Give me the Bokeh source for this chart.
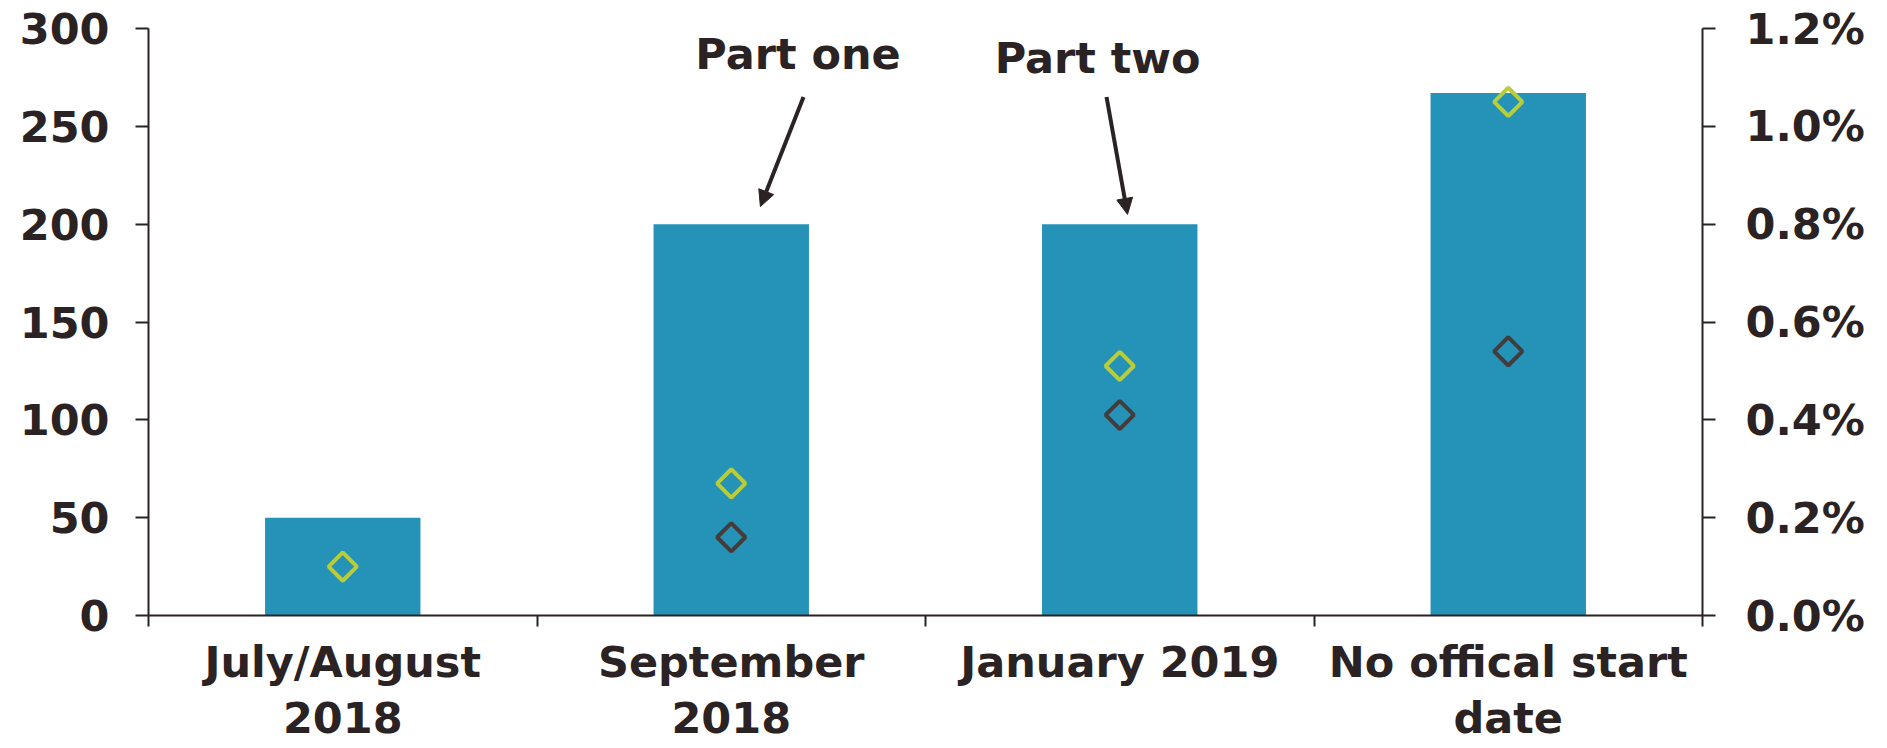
from bokeh.plotting import figure
from bokeh.models import (Range1d, LinearAxis, FixedTicker, PrintfTickFormatter,
                          ColumnDataSource, Arrow, NormalHead, Label)
from bokeh.embed import file_html
from bokeh.resources import INLINE
import numpy as np

# Tariff rounds by start date
categories = ["July/August\n2018", "September\n2018", "January 2019", "No offical start\ndate"]
tariff_bn = [50, 200, 200, 267]           # left axis
pct_green = [0.10, 0.27, 0.51, 1.05]      # right axis, %
pct_dark = [np.nan, 0.16, 0.41, 0.54]     # right axis, %
left_ticks = [0, 50, 100, 150, 200, 250, 300]
right_ticks = [0.0, 0.2, 0.4, 0.6, 0.8, 1.0, 1.2]

BAR = "#2592b7"
GREEN = "#b8cd3a"
DARK = "#453b3b"
INK = "#2a2223"
FONT = "DejaVu Sans"
FS = "43px"

n = len(categories)
xc = np.arange(n) + 0.5

p = figure(width=1887, height=748, output_backend="svg", toolbar_location=None,
           x_range=Range1d(0, n), y_range=Range1d(0, 300),
           min_border_left=148, min_border_right=185, min_border_top=28,
           min_border_bottom=133)
p.outline_line_color = None
p.xgrid.visible = False
p.ygrid.visible = False
p.background_fill_color = "white"
p.border_fill_color = "white"

src = ColumnDataSource(dict(x=xc, top=tariff_bn, g=pct_green, d=pct_dark))
p.vbar(x="x", top="top", width=0.4, source=src, fill_color=BAR, line_color=None)

p.extra_y_ranges = {"pct": Range1d(0, 1.2)}
p.scatter(x="x", y="g", source=src, y_range_name="pct", marker="square", size=20,
          angle=np.pi / 4, fill_color=None, line_color=GREEN, line_width=4)
p.scatter(x="x", y="d", source=src, y_range_name="pct", marker="square", size=20,
          angle=np.pi / 4, fill_color=None, line_color=DARK, line_width=4)

def style_axis(ax):
    ax.axis_line_color = INK
    ax.axis_line_width = 2
    ax.major_tick_line_color = INK
    ax.major_tick_line_width = 2
    ax.major_tick_in = 0
    ax.major_tick_out = 13
    ax.minor_tick_line_color = None
    ax.major_label_text_font = FONT
    ax.major_label_text_font_size = FS
    ax.major_label_text_font_style = "bold"
    ax.major_label_text_color = INK

# left axis
yl = p.yaxis[0]
yl.ticker = FixedTicker(ticks=left_ticks)
style_axis(yl)
yl.major_label_standoff = 26

# right axis
yr = LinearAxis(y_range_name="pct", ticker=FixedTicker(ticks=right_ticks),
                formatter=PrintfTickFormatter(format="%.1f%%"))
style_axis(yr)
yr.major_label_standoff = 30
p.add_layout(yr, "right")

# bottom axis: labels centred in each category, ticks on the boundaries
xa = p.xaxis[0]
xa.ticker = FixedTicker(ticks=list(xc), minor_ticks=list(range(n + 1)))
xa.major_label_overrides = {float(v): lab for v, lab in zip(xc, categories)}
style_axis(xa)
xa.major_tick_out = 0
xa.major_tick_line_color = None
xa.minor_tick_line_color = INK
xa.minor_tick_line_width = 2
xa.minor_tick_in = 0
xa.minor_tick_out = 11
xa.major_label_text_line_height = 1.13
xa.major_label_standoff = 10

# annotations
head = dict(size=16, fill_color=INK, line_color=INK, line_width=1)
for i, txt, dx_txt, y_txt, dx_start, dx_tip, gap in [
        (1, "Part one", 0.172, 287, 0.186, 0.075, 9),
        (2, "Part two", -0.057, 285, -0.034, 0.02, 5)]:
    p.add_layout(Label(x=xc[i] + dx_txt, y=y_txt, text=txt, text_align="center",
                       text_baseline="alphabetic", text_font=FONT,
                       text_font_size=FS, text_font_style="bold", text_color=INK))
    p.add_layout(Arrow(end=NormalHead(**head), x_start=xc[i] + dx_start, y_start=265,
                       x_end=xc[i] + dx_tip, y_end=tariff_bn[i] + gap,
                       line_color=INK, line_width=4))

open("out.html", "w").write(file_html(p, INLINE))
